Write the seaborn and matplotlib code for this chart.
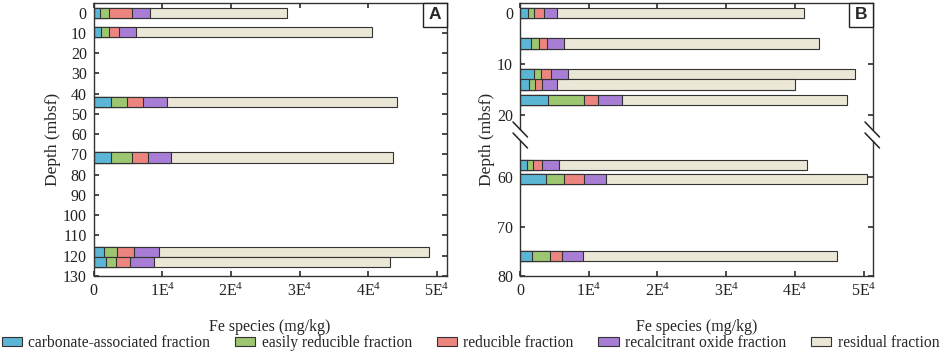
import numpy as np
import seaborn as sns
import matplotlib.pyplot as plt
from matplotlib.patches import Patch, Rectangle
from matplotlib.lines import Line2D

# Fe speciation (mg/kg)
fractions = ['carbonate-associated fraction', 'easily reducible fraction', 'reducible fraction',
             'recalcitrant oxide fraction', 'residual fraction']
colors = ['#5bb5d5', '#9cc66f', '#ec8480', '#a77dd5', '#ebe7d6']

# panel A
depth_a = [0, 9.4, 44.3, 71.5, 118.1, 123.2]
carb_a = [920, 1070, 2520, 2570, 1550, 1840]
easy_a = [1260, 1110, 2330, 2960, 1800, 1360]
red_a = [3350, 1510, 2330, 2330, 2480, 2090]
recal_a = [2630, 2430, 3550, 3450, 3730, 3450]
resid_a = [20040, 34460, 33490, 32330, 39320, 34370]

# panel B, upper part of the broken axis
depth_b1 = [0, 6, 12, 14, 17]
carb_b1 = [1220, 1610, 2050, 1320, 4050]
easy_b1 = [830, 1120, 1020, 830, 5320]
red_b1 = [1410, 1270, 1470, 1020, 2000]
recal_b1 = [1950, 2340, 2390, 2150, 3510]
resid_b1 = [35860, 37120, 41800, 34630, 32730]

# panel B, lower part
depth_b2 = [57.6, 60.3, 75.9]
carb_b2 = [980, 3760, 1800]
easy_b2 = [970, 2580, 2540]
red_b2 = [1320, 2930, 1810]
recal_b2 = [2390, 3220, 2970]
resid_b2 = [36100, 37950, 37030]

xticks = [0, 10000, 20000, 30000, 40000, 50000]
xticklabels = ['0'] + [r'$\mathregular{%dE^{4}}$' % i for i in range(1, 6)]

sns.set_theme(style='ticks')
plt.rcParams['font.family'] = ['Liberation Serif', 'DejaVu Serif']
plt.rcParams['mathtext.fontset'] = 'custom'
plt.rcParams['mathtext.rm'] = 'Liberation Serif'
plt.rcParams['xtick.direction'] = 'in'
plt.rcParams['ytick.direction'] = 'in'
plt.rcParams['xtick.top'] = True
plt.rcParams['ytick.right'] = True
plt.rcParams['axes.edgecolor'] = '#333333'
plt.rcParams['axes.linewidth'] = 1.0
plt.rcParams['xtick.color'] = '#333333'
plt.rcParams['ytick.color'] = '#333333'
plt.rcParams['xtick.labelcolor'] = '#222222'
plt.rcParams['ytick.labelcolor'] = '#222222'
plt.rcParams['xtick.major.size'] = 3.5
plt.rcParams['ytick.major.size'] = 3.5

edge = '#333333'


def stacked(ax, depth, parts, thick):
    cum = np.cumsum(np.array(parts, dtype=float), axis=0)
    w = thick / np.diff(sorted(depth)).min()
    # draw cumulative totals back to front so the pieces look stacked
    for i in reversed(range(len(parts))):
        sns.barplot(x=cum[i], y=depth, orient='h', native_scale=True, width=w,
                    color=colors[i], saturation=1, edgecolor=edge, linewidth=0.8,
                    errorbar=None, ax=ax)
    ax.set_xlim(0, 51400)
    ax.set_xticks(xticks)
    ax.set_xlabel('')
    ax.set_ylabel('')
    ax.tick_params(labelsize=11.5, pad=5)


def panel_letter(ax, letter, w_px, h_px):
    ax.add_patch(Rectangle((1 - 24 / w_px, 1 - 24 / h_px), 24 / w_px, 24 / h_px,
                           transform=ax.transAxes, facecolor='white', edgecolor='#222222',
                           lw=1, zorder=10, clip_on=False))
    ax.text(1 - 12 / w_px, 1 - 12 / h_px, letter, transform=ax.transAxes, ha='center',
            va='center', fontsize=12.5, fontweight='bold', family='Liberation Sans', zorder=11)


fig = plt.figure(figsize=(9.41, 3.53), dpi=100)
axA = fig.add_axes([0.0996, 0.2181, 0.3751, 0.7743])
axB1 = fig.add_axes([0.5526, 0.6127, 0.3755, 0.3797])
axB2 = fig.add_axes([0.5526, 0.2181, 0.3755, 0.3946])

# panel A
stacked(axA, depth_a, [carb_a, easy_a, red_a, recal_a, resid_a], 5.0)
axA.set_ylim(130, -4.9)
axA.set_yticks(range(0, 131, 10))
axA.set_xticklabels(xticklabels)
panel_letter(axA, 'A', 353, 273.3)

# panel B (broken depth axis)
stacked(axB1, depth_b1, [carb_b1, easy_b1, red_b1, recal_b1, resid_b1], 2.0)
axB1.set_ylim(24.2, -2)
axB1.set_yticks([0, 10, 20])
axB1.tick_params(axis='x', bottom=False, labelbottom=False)
axB1.spines['bottom'].set_visible(False)
axB1.spines['left'].set_bounds(-2, 22.7)
axB1.spines['right'].set_bounds(-2, 22.7)
panel_letter(axB1, 'B', 353, 134)

stacked(axB2, depth_b2, [carb_b2, easy_b2, red_b2, recal_b2, resid_b2], 2.0)
axB2.set_ylim(80, 51.8)
axB2.set_yticks([60, 70, 80])
axB2.tick_params(axis='x', top=False)
axB2.spines['top'].set_visible(False)
axB2.spines['left'].set_bounds(52.6, 80)
axB2.spines['right'].set_bounds(52.6, 80)
axB2.set_xticklabels(xticklabels)

# break marks
for x0 in (513, 865):
    for y0 in (122, 133):
        fig.add_artist(Line2D([x0 / 941, (x0 + 14.5) / 941], [1 - y0 / 353, 1 - (y0 + 15) / 353],
                              color='#222222', lw=1.1, transform=fig.transFigure))

# axis labels
for xc in (0.2871, 0.7404):
    fig.text(xc, 1 - 327 / 353, 'Fe species (mg/kg)', ha='center', va='center', fontsize=11.5)
fig.text(53.3 / 941, 0.605, 'Depth (mbsf)', rotation=90, ha='center', va='center', fontsize=12.5)
fig.text(487.3 / 941, 0.605, 'Depth (mbsf)', rotation=90, ha='center', va='center', fontsize=12.5)

handles = [Patch(facecolor=c, edgecolor=edge, lw=0.8) for c in colors]
fig.legend(handles, fractions, loc='center', bbox_to_anchor=(0.5, 1 - 343 / 353), ncol=5,
           frameon=False, fontsize=11.2, handlelength=1.3, handleheight=0.55,
           handletextpad=0.4, columnspacing=1.6, borderpad=0.2, borderaxespad=0)

plt.savefig('out.png', dpi=100)
